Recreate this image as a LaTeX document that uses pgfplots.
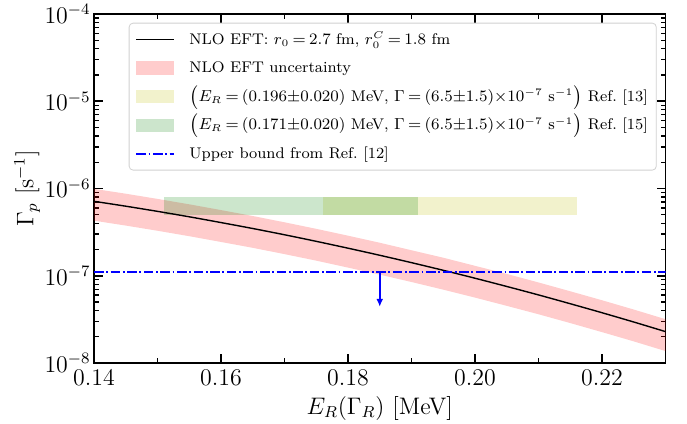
\documentclass[border=0pt]{standalone}
\usepackage{pgfplots}
\pgfplotsset{compat=1.18}
\usepackage{pgfplotstable}
\usepgfplotslibrary{fillbetween}
\usetikzlibrary{arrows.meta}

% E_R [MeV], central Gamma_p, upper and lower edge of the EFT band [1/s]
\pgfplotstableread{
E      c         up        lo
0.140  7.13e-7   9.91e-7   4.28e-7
0.145  6.27e-7   8.72e-7   3.76e-7
0.150  5.47e-7   7.60e-7   3.28e-7
0.155  4.74e-7   6.59e-7   2.84e-7
0.160  4.07e-7   5.66e-7   2.44e-7
0.165  3.48e-7   4.84e-7   2.09e-7
0.170  2.95e-7   4.10e-7   1.77e-7
0.175  2.48e-7   3.45e-7   1.49e-7
0.180  2.07e-7   2.88e-7   1.24e-7
0.185  1.717e-7  2.39e-7   1.03e-7
0.190  1.413e-7  1.96e-7   8.48e-8
0.195  1.155e-7  1.61e-7   6.93e-8
0.200  9.37e-8   1.30e-7   5.62e-8
0.205  7.54e-8   1.05e-7   4.52e-8
0.210  6.03e-8   8.38e-8   3.62e-8
0.215  4.78e-8   6.64e-8   2.87e-8
0.220  3.77e-8   5.24e-8   2.26e-8
0.225  2.95e-8   4.10e-8   1.77e-8
0.230  2.29e-8   3.18e-8   1.37e-8
}\gammap

\definecolor{mplyellow}{rgb}{0.75,0.75,0}
\definecolor{mplgreen}{rgb}{0,0.5,0}
\newcommand\lgdfont{\fontsize{7.75}{9.3}\selectfont\thickmuskip=3.5mu\relax}

\begin{document}
\begin{tikzpicture}
\begin{axis}[
    name=ax,
    width=285.75bp, height=174.5bp, scale only axis,
    ymode=log,
    xmin=0.14, xmax=0.23, ymin=1e-8, ymax=1e-4,
    xtick={0.14,0.16,0.18,0.20,0.22},
    minor xtick={0.15,0.17,0.19,0.21,0.23},
    xticklabel style={/pgf/number format/.cd,fixed,fixed zerofill,precision=2},
    tick align=inside,
    major tick length=4.5bp, minor tick length=2.5bp,
    every major tick/.append style={line width=0.9bp,black},
    every minor tick/.append style={line width=0.7bp,black},
    axis line style={line width=0.9bp},
    tick label style={font=\fontsize{11.7}{14}\selectfont},
    yticklabel style={inner xsep=1.5bp},
    label style={font=\fontsize{12}{14}\selectfont},
    xlabel={$E_R(\Gamma_R)$ [MeV]},
    ylabel={$\Gamma_p$ [s$^{-1}$]},
    xlabel style={at={(axis description cs:0.5,-0.129)},anchor=center},
    ylabel style={at={(axis description cs:-0.117,0.5)},anchor=center},
    legend style={
        at={(rel axis cs:0.9846,0.975)}, anchor=north east,
        draw=black!18, rounded corners=2bp, fill=white, fill opacity=0.8, text opacity=1,
        font=\lgdfont,
        inner xsep=3.2bp, inner ysep=1bp, row sep=0pt, column sep=6.2bp,
        nodes={inner xsep=1bp, inner ysep=2.1bp, text height=7.4bp, text depth=2.7bp},
    },
    legend cell align=left,
]
% experimental boxes
\addplot[forget plot, draw=none, fill=mplyellow, fill opacity=0.2]
    coordinates {(0.176,5e-7) (0.216,5e-7) (0.216,8e-7) (0.176,8e-7)} -- cycle;
\addplot[forget plot, draw=none, fill=mplgreen, fill opacity=0.2]
    coordinates {(0.151,5e-7) (0.191,5e-7) (0.191,8e-7) (0.151,8e-7)} -- cycle;
% EFT band
\addplot[forget plot, draw=none, name path=up] table[x=E,y=up] {\gammap};
\addplot[forget plot, draw=none, name path=lo] table[x=E,y=lo] {\gammap};
\addplot[forget plot, red, fill opacity=0.2, draw=none] fill between[of=up and lo];
% central curve
\addplot[forget plot, black, line width=0.7bp, smooth] table[x=E,y=c] {\gammap};
% upper bound
\addplot[forget plot, blue, line width=0.9bp,
    dash pattern=on 4.8bp off 1.3bp on 0.9bp off 1.3bp]
    coordinates {(0.14,1.1e-7) (0.23,1.1e-7)};
\addplot[forget plot, blue, line width=1bp, -{Latex[length=4bp,width=3.4bp]}]
    coordinates {(0.185,1.1e-7) (0.185,4.4e-8)};

\addlegendimage{legend image code/.code={\draw[black,line width=0.8bp,sharp corners] (0bp,0bp) -- (18.85bp,0bp);}}
\addlegendentry{NLO EFT: $r_0 = 2.7$ fm, $r_0^C = 1.8$ fm}
\addlegendimage{legend image code/.code={\fill[red,fill opacity=0.2,draw=none,sharp corners] (0bp,-3.3bp) rectangle (18.85bp,3.3bp);}}
\addlegendentry{NLO EFT uncertainty}
\addlegendimage{legend image code/.code={\fill[mplyellow,fill opacity=0.2,draw=none,sharp corners] (0bp,-3.3bp) rectangle (18.85bp,3.3bp);}}
\addlegendentry{$\bigl(E_R = (0.196{\pm}0.020)$ MeV, $\Gamma = (6.5{\pm}1.5){\times}10^{-7}$ s$^{-1}\bigr)$ Ref.\ [13]}
\addlegendimage{legend image code/.code={\fill[mplgreen,fill opacity=0.2,draw=none,sharp corners] (0bp,-3.3bp) rectangle (18.85bp,3.3bp);}}
\addlegendentry{$\bigl(E_R = (0.171{\pm}0.020)$ MeV, $\Gamma = (6.5{\pm}1.5){\times}10^{-7}$ s$^{-1}\bigr)$ Ref.\ [15]}
\addlegendimage{legend image code/.code={\draw[blue,line width=0.9bp,sharp corners,dash pattern=on 4.8bp off 1.3bp on 0.9bp off 1.3bp] (0bp,0bp) -- (18.85bp,0bp);}}
\addlegendentry{Upper bound from Ref.\ [12]}
\end{axis}
\pgfresetboundingbox
\path ([shift={(-47bp,-30bp)}]ax.south west) rectangle ([shift={(10.75bp,7bp)}]ax.north east);
\end{tikzpicture}
\end{document}
